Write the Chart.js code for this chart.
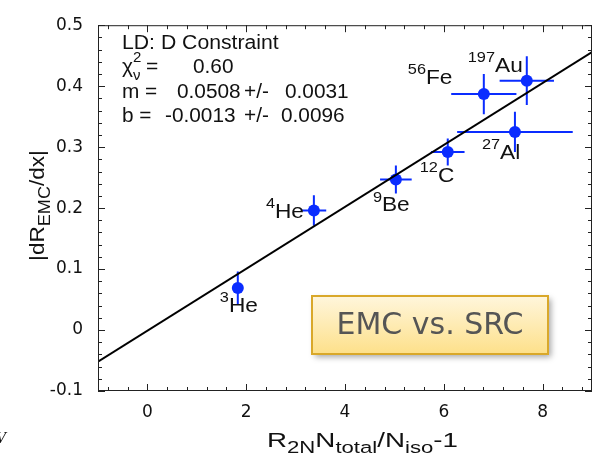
<!DOCTYPE html>
<html lang="en">
<head>
<meta charset="UTF-8">
<title>EMC vs. SRC</title>
<script src="https://cdn.jsdelivr.net/npm/chart.js"></script>
<style>
  html, body { margin: 0; padding: 0; background: #fff; }
  #wrap { position: relative; width: 598px; height: 457px; }
</style>
</head>
<body>
<div id="wrap"><canvas id="chart" width="598" height="457"></canvas></div>
<script>
// nuclei and measured slopes
const massNumbers = ['3', '4', '9', '12', '56', '197', '27'];
const elements = ['He', 'He', 'Be', 'C', 'Fe', 'Au', 'Al'];
const xVals = [1.83, 3.37, 5.03, 6.08, 6.81, 7.68, 7.44];
const yVals = [0.069, 0.196, 0.247, 0.292, 0.387, 0.409, 0.325];
const xErr = [0, 0.25, 0.32, 0.34, 0.66, 0.55, 1.17];
const yErr = [0.027, 0.025, 0.023, 0.022, 0.033, 0.040, 0.033];

// fitted line, end points
const fitLineX = [-1, 9];
const fitLineY = [-0.052, 0.456];

const xTickValues = [0, 2, 4, 6, 8];
const yTickValues = [-0.1, 0, 0.1, 0.2, 0.3, 0.4, 0.5];

const FONT = '"Liberation Sans", Arial, Helvetica, sans-serif';
const TICK_FONT = '"DejaVu Sans", sans-serif';
const BLUE = '#0a2cff';

// label placement relative to each point (px): left edge, baseline
const labelOffsets = [[-18, 24], [-48, 7], [-23, 32], [-28, 30], [-76, -10], [-59, -9], [-33, 27]];

// text stretched sideways a bit, like the original plot
function stretched(ctx, t, x, y, size, sx) {
  ctx.save();
  ctx.font = size + 'px ' + FONT;
  ctx.translate(x, y);
  ctx.scale(sx, 1);
  ctx.fillText(t, 0, 0);
  ctx.restore();
}

// text made of normal / sup / sub pieces
function richWidth(ctx, parts, size, sub) {
  let w = 0;
  parts.forEach(p => {
    ctx.font = (p.k ? size * sub : size) + 'px ' + FONT;
    if (!p.stack) w += ctx.measureText(p.t).width;
  });
  return w;
}
function drawRich(ctx, parts, x, y, size, opts = {}) {
  const sub = opts.sub || 0.7;
  const sx = opts.width ? opts.width / richWidth(ctx, parts, size, sub) : (opts.sx || 1);
  ctx.save();
  ctx.translate(x, y);
  ctx.scale(sx, 1);
  let cx = 0;
  parts.forEach(p => {
    let s = size, dy = 0;
    if (p.k === 'sup') { s = size * sub; dy = -size * (opts.supUp || 0.45); }
    if (p.k === 'sub') { s = size * sub; dy = size * (opts.subDown || 0.25); }
    ctx.font = s + 'px ' + FONT;
    ctx.fillText(p.t, cx, dy);
    if (!p.stack) cx += ctx.measureText(p.t).width;
  });
  ctx.restore();
}

const decorations = {
  id: 'decorations',
  beforeDatasetsDraw(chart) {
    const { ctx, scales: { x, y } } = chart;
    ctx.save();
    ctx.strokeStyle = BLUE;
    ctx.lineWidth = 2;
    for (let i = 0; i < xVals.length; i++) {
      const px = x.getPixelForValue(xVals[i]);
      const py = y.getPixelForValue(yVals[i]);
      ctx.beginPath();
      ctx.moveTo(px, y.getPixelForValue(yVals[i] - yErr[i]));
      ctx.lineTo(px, y.getPixelForValue(yVals[i] + yErr[i]));
      if (xErr[i] > 0) {
        ctx.moveTo(x.getPixelForValue(xVals[i] - xErr[i]), py);
        ctx.lineTo(x.getPixelForValue(xVals[i] + xErr[i]), py);
      }
      ctx.stroke();
    }
    ctx.restore();
  },
  afterDraw(chart) {
    const { ctx, chartArea: a, scales: { x, y } } = chart;
    ctx.save();

    // frame
    ctx.strokeStyle = '#222';
    ctx.lineWidth = 1;
    ctx.strokeRect(a.left + 0.5, a.top + 0.5, a.right - a.left - 1, a.bottom - a.top - 1);

    // inward ticks on all sides
    ctx.beginPath();
    for (let k = -2; k <= 22; k++) {
      const px = Math.round(x.getPixelForValue(k * 0.4)) + 0.5;
      const len = k % 5 === 0 ? 7 : 4;
      ctx.moveTo(px, a.bottom); ctx.lineTo(px, a.bottom - len);
      ctx.moveTo(px, a.top); ctx.lineTo(px, a.top + len);
    }
    for (let k = -5; k <= 25; k++) {
      const py = Math.round(y.getPixelForValue(k * 0.02)) + 0.5;
      const len = k % 5 === 0 ? 7 : 4;
      ctx.moveTo(a.left, py); ctx.lineTo(a.left + len, py);
      ctx.moveTo(a.right, py); ctx.lineTo(a.right - len, py);
    }
    ctx.stroke();

    ctx.fillStyle = '#111';
    ctx.textBaseline = 'alphabetic';
    ctx.textAlign = 'left';

    // fit results
    stretched(ctx, 'LD: D Constraint', 122, 49, 20, 1.06);
    stretched(ctx, 'χ', 122, 73, 20, 1.05);
    ctx.font = '15px ' + FONT;
    ctx.fillText('2', 133, 62);
    ctx.fillText('ν', 133, 80);
    stretched(ctx, '=', 146, 73, 20, 1.05);
    stretched(ctx, '0.60', 193, 73, 20, 1.04);
    stretched(ctx, 'm =', 122, 98, 20, 1.04);
    stretched(ctx, '0.0508', 177, 98, 20, 1.04);
    stretched(ctx, '+/-', 244, 98, 20, 1.04);
    stretched(ctx, '0.0031', 285, 98, 20, 1.04);
    stretched(ctx, 'b =', 122, 122, 20, 1.04);
    stretched(ctx, '-0.0013', 165, 122, 20, 1.04);
    stretched(ctx, '+/-', 244, 122, 20, 1.04);
    stretched(ctx, '0.0096', 281, 122, 20, 1.04);

    // nucleus labels
    for (let i = 0; i < xVals.length; i++) {
      const px = x.getPixelForValue(xVals[i]);
      const py = y.getPixelForValue(yVals[i]);
      const [dx, dy] = labelOffsets[i];
      drawRich(ctx, [{ t: massNumbers[i], k: 'sup' }, { t: elements[i] }], px + dx, py + dy, 21,
        { sub: 0.72, supUp: 0.47, sx: 1.08 });
    }

    // axis titles
    drawRich(ctx,
      [{ t: 'R' }, { t: '2N', k: 'sub' }, { t: 'N' }, { t: 'total', k: 'sub' }, { t: '/N' }, { t: 'iso', k: 'sub' }, { t: '-1' }],
      267, 447, 21, { sub: 0.8, subDown: 0.3, width: 191 });
    ctx.save();
    ctx.translate(44, 261);
    ctx.rotate(-Math.PI / 2);
    drawRich(ctx, [{ t: '|dR' }, { t: 'EMC', k: 'sub' }, { t: '/dx|' }], 0, 0, 21, { sub: 0.8, subDown: 0.28, width: 111 });
    ctx.restore();

    // stray glyph at the lower left corner
    ctx.font = 'italic 16px "Liberation Serif", serif';
    ctx.fillText('V', -4, 443);

    // EMC vs. SRC badge
    const bx = 312, by = 296, bw = 236, bh = 58;
    ctx.save();
    ctx.shadowColor = 'rgba(0,0,0,0.35)';
    ctx.shadowBlur = 6;
    ctx.shadowOffsetX = 3;
    ctx.shadowOffsetY = 3;
    const g = ctx.createLinearGradient(0, by, 0, by + bh);
    g.addColorStop(0, '#fff6dc');
    g.addColorStop(1, '#fde08a');
    ctx.fillStyle = g;
    ctx.fillRect(bx, by, bw, bh);
    ctx.restore();
    ctx.strokeStyle = '#d9a82a';
    ctx.lineWidth = 2;
    ctx.strokeRect(bx, by, bw, bh);
    ctx.fillStyle = '#555';
    ctx.font = '30px "Comic Sans MS", "DejaVu Sans", sans-serif';
    ctx.textAlign = 'center';
    ctx.textBaseline = 'middle';
    ctx.fillText('EMC vs. SRC', bx + bw / 2, by + bh / 2 + 1);

    ctx.restore();
  }
};

new Chart(document.getElementById('chart'), {
  type: 'scatter',
  data: {
    datasets: [
      {
        type: 'line',
        data: fitLineX.map((v, i) => ({ x: v, y: fitLineY[i] })),
        borderColor: '#000',
        borderWidth: 2,
        pointRadius: 0,
        fill: false
      },
      {
        data: xVals.map((v, i) => ({ x: v, y: yVals[i] })),
        backgroundColor: BLUE,
        borderWidth: 0,
        pointRadius: 6
      }
    ]
  },
  options: {
    responsive: false,
    devicePixelRatio: 1,
    animation: false,
    layout: { padding: { top: 17, right: 2, left: 0, bottom: 0 } },
    plugins: { legend: { display: false }, tooltip: { enabled: false } },
    scales: {
      x: {
        type: 'linear',
        min: -1,
        max: 9,
        afterBuildTicks: s => { s.ticks = xTickValues.map(v => ({ value: v })); },
        afterFit: s => { s.height = 66; },
        grid: { display: false, drawTicks: false },
        border: { display: false },
        ticks: { padding: 11, color: '#111', font: { size: 17, family: TICK_FONT } }
      },
      y: {
        type: 'linear',
        min: -0.1,
        max: 0.5,
        afterBuildTicks: s => { s.ticks = yTickValues.map(v => ({ value: v })); },
        afterFit: s => { s.width = 98; },
        grid: { display: false, drawTicks: false },
        border: { display: false },
        ticks: {
          padding: 15,
          color: '#111',
          font: { size: 17, family: TICK_FONT },
          callback: v => String(Math.round(v * 10) / 10)
        }
      }
    }
  },
  plugins: [decorations]
});
</script>
</body>
</html>
